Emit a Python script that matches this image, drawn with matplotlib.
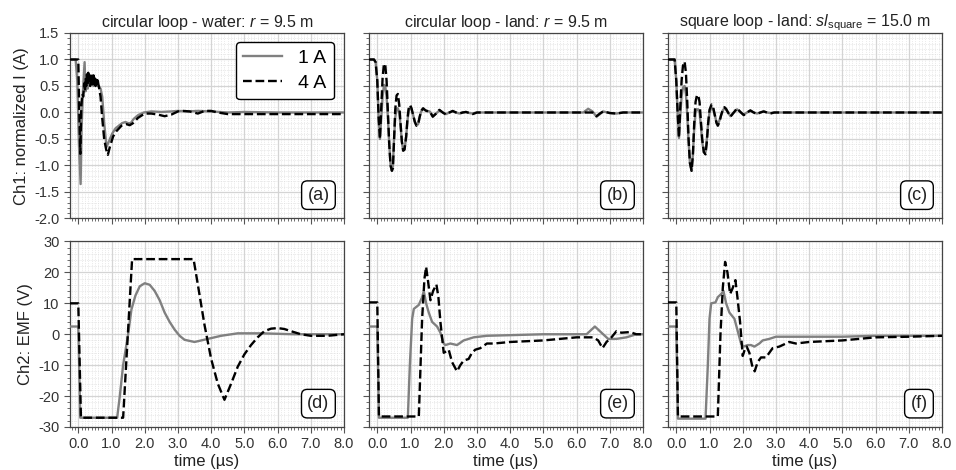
import matplotlib
matplotlib.use('Agg')
import matplotlib.pyplot as plt
from matplotlib.ticker import MultipleLocator, FormatStrFormatter

plt.rcParams['font.family'] = ['Liberation Sans', 'DejaVu Sans']
plt.rcParams['mathtext.fontset'] = 'custom'
plt.rcParams['mathtext.rm'] = 'Liberation Sans'
plt.rcParams['mathtext.it'] = 'Liberation Sans:italic'
plt.rcParams['axes.unicode_minus'] = False

# --- Ch1: normalized current (A) ---
# (a) circular loop - water
t_a1 = [-0.25, -0.08, -0.03, 0.02, 0.07, 0.1, 0.14, 0.19, 0.22, 0.25, 0.28, 0.31, 0.34, 0.37, 0.4,
        0.43, 0.46, 0.49, 0.52, 0.55, 0.58, 0.62, 0.67, 0.72, 0.78, 0.85, 0.92, 1.02, 1.12, 1.22,
        1.32, 1.42, 1.5, 1.58, 1.67, 1.8, 1.97, 2.2, 2.5, 2.8, 3.0, 3.3, 3.6, 4.0, 4.5, 5.0, 6.0, 7.0, 8.0]
i_a1 = [1.0, 1.0, 0.6, -0.6, -1.35, -0.3, 0.4, 0.95, 0.4, 0.6, 0.45, 0.65, 0.5, 0.6, 0.55,
        0.7, 0.5, 0.65, 0.55, 0.6, 0.5, 0.5, 0.45, 0.3, -0.2, -0.65, -0.55, -0.4, -0.3, -0.25,
        -0.2, -0.18, -0.2, -0.2, -0.12, -0.05, 0.0, 0.02, 0.01, 0.02, 0.03, 0.02, 0.03, 0.02, 0.0, 0.01, 0.0, 0.0, 0.0]
t_a4 = [-0.25, 0.0, 0.03, 0.06, 0.09, 0.12, 0.15, 0.18, 0.2, 0.22, 0.24, 0.26, 0.28, 0.3, 0.32,
        0.34, 0.36, 0.38, 0.4, 0.42, 0.44, 0.46, 0.48, 0.5, 0.52, 0.54, 0.56, 0.58, 0.6, 0.63,
        0.67, 0.72, 0.78, 0.84, 0.89, 0.95, 1.05, 1.15, 1.3, 1.45, 1.55, 1.65, 1.8, 2.0, 2.2,
        2.4, 2.6, 2.8, 3.0, 3.15, 3.35, 3.6, 3.8, 4.0, 4.2, 4.5, 5.0, 6.0, 7.0, 8.0]
i_a4 = [1.0, 1.0, 0.0, -0.78, 0.1, 0.35, 0.3, 0.55, 0.4, 0.65, 0.5, 0.72, 0.55, 0.75, 0.6,
        0.7, 0.5, 0.72, 0.55, 0.65, 0.5, 0.7, 0.55, 0.68, 0.5, 0.62, 0.55, 0.65, 0.55, 0.45,
        0.3, -0.1, -0.5, -0.7, -0.8, -0.65, -0.45, -0.35, -0.25, -0.22, -0.24, -0.2, -0.1, -0.02, -0.02,
        -0.04, -0.07, -0.04, 0.02, 0.03, 0.02, -0.02, 0.03, 0.03, 0.0, -0.03, -0.03, -0.03, -0.03, -0.03]

# (b) circular loop - land
t_b = [-0.25, -0.1, -0.05, 0.0, 0.04, 0.08, 0.12, 0.16, 0.2, 0.24, 0.28, 0.32, 0.36, 0.4, 0.44,
       0.47, 0.5, 0.54, 0.58, 0.62, 0.66, 0.7, 0.74, 0.78, 0.82, 0.87, 0.91, 0.95, 0.99, 1.03,
       1.08, 1.13, 1.18, 1.23, 1.27, 1.32, 1.38, 1.43, 1.48, 1.58, 1.67, 1.77, 1.87, 1.97, 2.07,
       2.17, 2.27, 2.37, 2.47, 2.57, 2.67, 2.77, 2.87, 3.0, 4.0, 5.0, 6.0, 6.2, 6.35, 6.48,
       6.6, 6.7, 6.8, 7.0, 7.2, 7.4, 8.0]
i_b1 = [1.0, 1.0, 0.95, 0.6, -0.1, -0.5, -0.1, 0.3, 0.52, 0.5, 0.3, -0.1, -0.6, -1.0, -1.1,
        -1.0, -0.55, -0.1, 0.07, 0.08, 0.0, -0.25, -0.55, -0.72, -0.7, -0.45, -0.15, 0.05, 0.1, 0.06,
        -0.05, -0.17, -0.24, -0.22, -0.1, 0.02, 0.07, 0.05, 0.03, 0.02, -0.07, -0.02, 0.04, 0.0, -0.03,
        0.0, 0.02, 0.0, -0.02, 0.0, 0.01, -0.01, -0.02, 0.0, 0.0, 0.0, 0.0, 0.0, 0.07, 0.02,
        -0.08, -0.03, 0.02, -0.01, -0.02, 0.0, 0.0]
i_b4 = [1.0, 1.0, 0.95, 0.6, -0.1, -0.5, 0.1, 0.65, 0.92, 0.9, 0.6, 0.0, -0.6, -1.0, -1.1,
        -1.05, -0.6, 0.05, 0.32, 0.35, 0.15, -0.2, -0.55, -0.72, -0.7, -0.45, -0.1, 0.1, 0.14, 0.08,
        -0.05, -0.18, -0.25, -0.22, -0.1, 0.03, 0.08, 0.05, 0.03, 0.02, -0.08, -0.02, 0.05, 0.0, -0.04,
        0.0, 0.03, 0.0, -0.02, 0.0, 0.01, -0.01, -0.03, 0.0, 0.0, 0.0, 0.0, 0.0, 0.0, 0.0,
        -0.07, -0.02, 0.02, -0.01, -0.02, 0.0, 0.0]

# (c) square loop - land
t_c = [-0.25, -0.05, 0.0, 0.04, 0.08, 0.12, 0.16, 0.2, 0.25, 0.29, 0.33, 0.37, 0.41, 0.46, 0.5,
       0.54, 0.58, 0.62, 0.66, 0.7, 0.74, 0.78, 0.83, 0.88, 0.92, 0.96, 1.0, 1.06, 1.11, 1.16,
       1.21, 1.25, 1.3, 1.35, 1.4, 1.45, 1.5, 1.54, 1.63, 1.73, 1.83, 1.93, 2.03, 2.13, 2.23,
       2.33, 2.43, 2.53, 2.63, 2.73, 2.83, 2.95, 3.2, 4.0, 5.0, 6.0, 7.0, 8.0]
i_c1 = [1.0, 1.0, 0.6, 0.0, -0.48, -0.05, 0.3, 0.47, 0.5, 0.35, -0.05, -0.55, -0.95, -1.1, -0.8,
        -0.3, 0.0, 0.06, 0.06, 0.0, -0.25, -0.55, -0.75, -0.75, -0.5, -0.2, 0.0, 0.1, 0.07, -0.05,
        -0.18, -0.22, -0.15, -0.05, 0.04, 0.08, 0.05, 0.02, -0.07, 0.0, 0.06, 0.01, -0.04, 0.0, 0.03,
        0.0, -0.02, 0.0, 0.02, 0.0, -0.01, 0.0, 0.0, 0.0, 0.0, 0.0, 0.0, 0.0]
i_c4 = [1.0, 1.0, 0.6, 0.0, -0.48, 0.1, 0.6, 0.88, 0.96, 0.75, 0.2, -0.5, -0.95, -1.1, -0.8,
        -0.2, 0.2, 0.32, 0.33, 0.2, -0.15, -0.5, -0.75, -0.79, -0.55, -0.2, 0.05, 0.15, 0.1, -0.05,
        -0.2, -0.25, -0.18, -0.05, 0.05, 0.1, 0.07, 0.02, -0.08, 0.0, 0.08, 0.01, -0.05, 0.0, 0.04,
        0.0, -0.03, 0.0, 0.02, 0.0, -0.02, 0.0, 0.0, 0.0, 0.0, 0.0, 0.0, 0.0]

# --- Ch2: EMF (V) ---
# (d)
t_d1 = [-0.25, 0.0, 0.06, 1.17, 1.25, 1.35, 1.5, 1.6, 1.72, 1.85, 2.0, 2.15, 2.3, 2.45, 2.6,
        2.75, 2.9, 3.05, 3.2, 3.5, 3.9, 4.3, 4.8, 5.5, 6.5, 8.0]
v_d1 = [2.5, 2.5, -27, -27, -20, -10, 0, 8, 12.5, 15.5, 16.5, 16, 14, 11, 7,
        4, 1.5, -0.5, -1.8, -2.5, -1.5, -0.5, 0.3, 0.3, 0.0, 0.0]
t_d4 = [-0.25, 0.0, 0.08, 1.35, 1.62, 3.47, 3.6, 3.8, 4.0, 4.2, 4.4, 4.6, 4.8, 5.0, 5.2,
        5.4, 5.6, 5.8, 6.0, 6.2, 6.4, 6.7, 7.0, 7.5, 8.0]
v_d4 = [10, 10, -27, -27, 24.3, 24.3, 16, 3, -8, -16, -21.2, -16, -10.5, -6.5, -3.5,
        -1, 1, 1.8, 2.0, 1.7, 1.0, 0.0, -0.5, -0.5, 0.0]

# (e)
t_e1 = [-0.25, 0.0, 0.05, 0.92, 0.98, 1.05, 1.1, 1.25, 1.35, 1.4, 1.47, 1.55, 1.65, 1.8, 1.9,
        2.0, 2.05, 2.2, 2.4, 2.6, 2.9, 3.3, 4.0, 5.0, 6.3, 6.45, 6.55, 6.65, 6.8, 6.95,
        7.2, 7.5, 7.8, 8.0]
v_e1 = [2.5, 2.5, -27, -27, -10, 5, 8.2, 9.5, 12, 14, 10, 7, 4, 2.5, 0.5,
        -3, -3.5, -3, -3.5, -2, -1, -0.5, -0.3, 0, 0, 1.5, 2.5, 1.5, 0, -1.5,
        -1.5, -1, 0, 0]
t_e4 = [-0.25, 0.0, 0.05, 1.25, 1.35, 1.42, 1.47, 1.53, 1.6, 1.68, 1.78, 1.84, 1.9, 2.0, 2.08,
        2.15, 2.25, 2.4, 2.5, 2.6, 2.75, 2.85, 2.95, 3.1, 3.3, 3.5, 4.0, 5.0, 6.0, 6.5,
        6.65, 6.78, 6.9, 7.05, 7.2, 7.35, 7.6, 7.8, 8.0]
v_e4 = [10.3, 10.3, -26.6, -26.6, 5, 18, 21.8, 17, 11, 14, 16.1, 12, 4, -6, -5.5,
        -5, -9, -12, -10, -8.5, -8, -6, -5, -4.5, -3, -3, -2.5, -2, -1, -1,
        -2, -4.5, -2.5, -1, 1.0, 0.5, 0.7, 0, 0]

# (f)
t_f1 = [-0.25, 0.0, 0.05, 0.88, 0.95, 1.0, 1.05, 1.18, 1.25, 1.35, 1.42, 1.5, 1.6, 1.75, 1.85,
        1.95, 2.02, 2.15, 2.25, 2.35, 2.5, 2.6, 2.8, 3.0, 4.0, 5.0, 6.0, 7.0, 8.0]
v_f1 = [2.5, 2.5, -27.3, -27.3, -10, 5, 10, 10.3, 12, 13, 14, 10, 7, 5, 1,
        -3, -4, -3.5, -3.5, -4, -3, -2, -1.5, -0.8, -0.8, -0.8, -0.5, -0.5, -0.5]
t_f4 = [-0.25, 0.0, 0.05, 1.25, 1.33, 1.4, 1.47, 1.54, 1.62, 1.7, 1.78, 1.84, 1.92, 2.0, 2.06,
        2.12, 2.2, 2.28, 2.36, 2.45, 2.55, 2.7, 2.8, 2.9, 3.1, 3.4, 3.6, 4.0, 5.0, 6.0, 7.0, 8.0]
v_f4 = [10.3, 10.3, -26.6, -26.6, 0, 15, 23.4, 20, 13, 15, 17.5, 12, 4, -7, -5,
        -4, -6, -10, -12, -9, -7.5, -7.5, -6, -4.5, -4, -2.5, -3, -2.5, -2, -1, -0.8, -0.5]

titles = ['circular loop - water: $r$ = 9.5 m',
          'circular loop - land: $r$ = 9.5 m',
          'square loop - land: $sl_\\mathrm{square}$ = 15.0 m']
panel_labels = ['(a)', '(b)', '(c)', '(d)', '(e)', '(f)']

ch1 = [(t_a1, i_a1, t_a4, i_a4), (t_b, i_b1, t_b, i_b4), (t_c, i_c1, t_c, i_c4)]
ch2 = [(t_d1, v_d1, t_d4, v_d4), (t_e1, v_e1, t_e4, v_e4), (t_f1, v_f1, t_f4, v_f4)]

fig, axes = plt.subplots(2, 3, figsize=(9.56, 4.70), dpi=100, sharex=True, sharey='row')
fig.subplots_adjust(left=0.0732, right=0.9854, top=0.9298, bottom=0.0915, wspace=0.091, hspace=0.124)

gray = '#808080'
for row, data in enumerate([ch1, ch2]):
    for col, (t1, y1, t4, y4) in enumerate(data):
        ax = axes[row, col]
        ax.plot(t1, y1, color=gray, lw=1.7, label='1 A', zorder=3)
        ax.plot(t4, y4, color='black', lw=1.7, ls='--', label='4 A', zorder=4)
        ax.set_xlim(-0.25, 8.0)
        ax.xaxis.set_major_locator(MultipleLocator(1.0))
        ax.xaxis.set_minor_locator(MultipleLocator(0.1))
        ax.xaxis.set_major_formatter(FormatStrFormatter('%.1f'))
        if row == 0:
            ax.set_ylim(-2.0, 1.5)
            ax.yaxis.set_major_locator(MultipleLocator(0.5))
            ax.yaxis.set_minor_locator(MultipleLocator(0.1))
            ax.yaxis.set_major_formatter(FormatStrFormatter('%.1f'))
            ax.set_title(titles[col], fontsize=11.5, color='#222222', pad=4)
        else:
            ax.set_ylim(-30, 30)
            ax.yaxis.set_major_locator(MultipleLocator(10))
            ax.yaxis.set_minor_locator(MultipleLocator(2))
            ax.set_xlabel('time (µs)', fontsize=12, color='#222222', labelpad=2)
        ax.grid(which='major', color='#d4d4d4', lw=0.9, zorder=0)
        ax.grid(which='minor', color='#d8d8d8', lw=0.5, ls=':', zorder=0)
        ax.tick_params(which='major', direction='out', length=4, width=0.8, colors='#555555',
                       labelcolor='#333333', labelsize=10.5)
        ax.tick_params(which='minor', direction='out', length=2, width=0.6, colors='#555555')
        for sp in ax.spines.values():
            sp.set_color('#444444')
            sp.set_linewidth(0.9)
        ax.text(0.947, 0.08, panel_labels[row * 3 + col], transform=ax.transAxes,
                ha='right', va='bottom', fontsize=13, color='#222222', zorder=6,
                bbox=dict(boxstyle='round,pad=0.32', fc='white', ec='black', lw=1.0))

axes[0, 0].set_ylabel('Ch1: normalized I (A)', fontsize=12, color='#222222')
axes[1, 0].set_ylabel('Ch2: EMF (V)', fontsize=12, color='#222222')

leg = axes[0, 0].legend(loc='upper right', fontsize=14, frameon=True, fancybox=True,
                        handlelength=2.0, borderpad=0.4, labelspacing=0.35, handletextpad=0.8,
                        borderaxespad=0, bbox_to_anchor=(0.963, 0.952))
leg.get_frame().set_edgecolor('black')
leg.get_frame().set_linewidth(1.0)
leg.get_frame().set_alpha(1.0)

fig.savefig('out.png', dpi=100)
